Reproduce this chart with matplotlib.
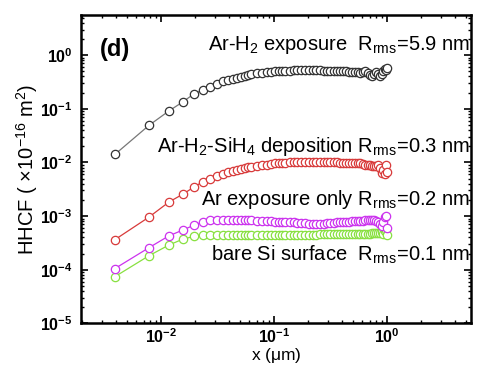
import matplotlib.pyplot as plt
import numpy as np

plt.rcParams['font.family'] = ['Liberation Sans', 'DejaVu Sans']
plt.rcParams['mathtext.fontset'] = 'custom'
plt.rcParams['mathtext.rm'] = 'Liberation Sans'
plt.rcParams['mathtext.it'] = 'Liberation Sans'
plt.rcParams['mathtext.bf'] = 'Liberation Sans:bold'

# lag index (pixel steps of 1/256 um)
lag_index = [1, 2, 3, 4, 5, 6, 7, 8, 9, 10, 11, 12, 13, 14, 15, 16,
             18, 20, 22, 24, 26, 28, 30, 32, 35, 38, 41, 44, 48, 52, 56, 60,
             65, 70, 75, 80, 86, 92, 98, 104, 111, 118, 125, 132, 140, 148,
             156, 164, 172, 180, 188, 196, 204, 212, 220, 228, 236, 244, 250, 256]
pixel_um = 1.0 / 256

# HHCF in units of 1e-16 m^2
arh2_exposure = [0.0141, 0.049, 0.091, 0.135, 0.19, 0.224, 0.257, 0.295, 0.324, 0.347,
                 0.363, 0.38, 0.398, 0.417, 0.427, 0.437, 0.457, 0.468, 0.479, 0.49,
                 0.50, 0.50, 0.513, 0.513, 0.513, 0.525, 0.525, 0.525, 0.525, 0.525,
                 0.525, 0.525, 0.525, 0.513, 0.513, 0.513, 0.513, 0.50, 0.50, 0.50,
                 0.50, 0.49, 0.49, 0.49, 0.49, 0.468, 0.49, 0.50, 0.468, 0.427,
                 0.407, 0.447, 0.49, 0.447, 0.407, 0.447, 0.50, 0.55, 0.525, 0.575]
arh2sih4_deposition = [0.000363, 0.000955, 0.00182, 0.00257, 0.00347, 0.00437, 0.00501,
                       0.00562, 0.00617, 0.00661, 0.00692, 0.00724, 0.00759, 0.00794,
                       0.00813, 0.00832, 0.00871, 0.00891, 0.00912, 0.00933, 0.00955,
                       0.00955, 0.00977, 0.00977, 0.01, 0.01, 0.01, 0.01, 0.01, 0.01,
                       0.01, 0.01, 0.01, 0.01, 0.01, 0.01, 0.01, 0.01, 0.00977, 0.00977,
                       0.00977, 0.00977, 0.00977, 0.00977, 0.00977, 0.00955, 0.00933,
                       0.00912, 0.00912, 0.00891, 0.00871, 0.00871, 0.00851, 0.00891,
                       0.00776, 0.00631, 0.00708, 0.00603, 0.00891, 0.00676]
ar_exposure = [0.000105, 0.000257, 0.000427, 0.00055, 0.000676, 0.000776, 0.000832,
               0.000851, 0.000851, 0.000851, 0.000851, 0.000851, 0.000832, 0.000832,
               0.000832, 0.000832, 0.000813, 0.000813, 0.000794, 0.000794, 0.000776,
               0.000776, 0.000776, 0.000759, 0.000759, 0.000759, 0.000741, 0.000741,
               0.000741, 0.000724, 0.000724, 0.000724, 0.000724, 0.000724, 0.000741,
               0.000741, 0.000741, 0.000759, 0.000759, 0.000759, 0.000776, 0.000776,
               0.000794, 0.000794, 0.000794, 0.000813, 0.000813, 0.000832, 0.000832,
               0.000851, 0.000851, 0.000832, 0.000813, 0.000776, 0.000724, 0.000661,
               0.000759, 0.000955, 0.001, 0.000603]
bare_si = [0.0000741, 0.000182, 0.000288, 0.000372, 0.000417, 0.000437, 0.000447,
           0.000447, 0.000447, 0.000447, 0.000447, 0.000447, 0.000447, 0.000447,
           0.000447, 0.000447, 0.000447, 0.000447, 0.000447, 0.000447, 0.000447,
           0.000447, 0.000447, 0.000447, 0.000447, 0.000447, 0.000447, 0.000447,
           0.000447, 0.000447, 0.000447, 0.000447, 0.000457, 0.000457, 0.000457,
           0.000457, 0.000457, 0.000457, 0.000457, 0.000457, 0.000468, 0.000468,
           0.000468, 0.000468, 0.000468, 0.000468, 0.000468, 0.000468, 0.000468,
           0.000468, 0.000479, 0.000479, 0.000479, 0.000479, 0.000479, 0.000501,
           0.000457, 0.000525, 0.00055, 0.000437]

series = [
    (arh2_exposure, '#333333', '#777777'),
    (arh2sih4_deposition, '#d83a3a', '#d83a3a'),
    (ar_exposure, '#cc33ee', '#cc33ee'),
    (bare_si, '#88e040', '#88e040'),
]

labels = [
    r'Ar-H$_2$ exposure  R$_{\rm rms}$=5.9 nm',
    r'Ar-H$_2$-SiH$_4$ deposition R$_{\rm rms}$=0.3 nm',
    r'Ar exposure only R$_{\rm rms}$=0.2 nm',
    r'bare Si surface  R$_{\rm rms}$=0.1 nm',
]
label_y = [0.905, 0.575, 0.402, 0.222]

fig = plt.figure(figsize=(4.78, 3.67), dpi=100)
ax = fig.add_axes([0.1695, 0.119, 0.816, 0.839])

x = np.array(lag_index) * pixel_um
for vals, ec, lc in series[::-1]:
    ax.plot(x, vals, '-', color=lc, lw=0.9, marker='o', ms=6,
            mfc='white', mec=ec, mew=0.9)

ax.set_xscale('log')
ax.set_yscale('log')
ax.set_xlim(0.00196, 5.5)
ax.set_ylim(1e-5, 5.5)

for s in ax.spines.values():
    s.set_linewidth(1.8)
ax.tick_params(which='both', direction='in', top=True, right=True)
ax.tick_params(which='major', length=5, width=1.2, labelsize=11.5)
ax.tick_params(axis='x', which='major', pad=3)
ax.tick_params(axis='y', which='major', pad=6)
ax.tick_params(which='minor', length=2.5, width=1)
for t in ax.get_xticklabels() + ax.get_yticklabels():
    t.set_fontweight('bold')

ax.set_xlabel(r'x ($\mu$m)', fontsize=12.5, labelpad=0)
ax.set_ylabel(r'HHCF ( $\times$10$^{-16}$ m$^2$)', fontsize=14.5, labelpad=0)

ax.text(0.049, 0.89, '(d)', transform=ax.transAxes, fontsize=17, fontweight='bold',
        ha='left', va='center')
for lab, yy in zip(labels, label_y):
    ax.text(0.998, yy, lab, transform=ax.transAxes, fontsize=14.5,
            ha='right', va='center')

fig.savefig('out.png', dpi=100, facecolor='white')
